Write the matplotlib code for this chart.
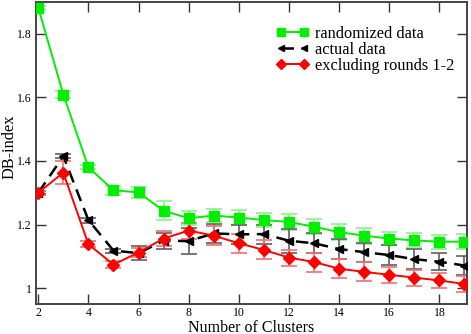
import numpy as np
import matplotlib
matplotlib.use("Agg")
import matplotlib.pyplot as plt

plt.rcParams['font.family'] = ['Liberation Serif', 'DejaVu Serif']

clusters = np.arange(2, 20)

# randomized data
rand_y = [1.882, 1.609, 1.380, 1.308, 1.301, 1.243, 1.220, 1.228, 1.222,
          1.214, 1.208, 1.193, 1.176, 1.165, 1.156, 1.150, 1.146, 1.146]
rand_err = [0.006, 0.010, 0.006, 0.014, 0.017, 0.030, 0.022, 0.021, 0.023,
            0.021, 0.025, 0.023, 0.026, 0.025, 0.021, 0.022, 0.022, 0.024]

# actual data
act_y = [1.300, 1.415, 1.214, 1.118, 1.110, 1.149, 1.148, 1.172, 1.169,
         1.170, 1.149, 1.141, 1.123, 1.113, 1.104, 1.091, 1.083, 1.071]
act_err = [0.005, 0.006, 0.008, 0.006, 0.021, 0.025, 0.040, 0.030, 0.030,
           0.030, 0.037, 0.031, 0.032, 0.030, 0.031, 0.032, 0.027, 0.030]

# excluding rounds 1-2
excl_y = [1.300, 1.363, 1.138, 1.074, 1.112, 1.156, 1.181, 1.165, 1.141,
          1.120, 1.096, 1.082, 1.061, 1.051, 1.042, 1.033, 1.024, 1.013]
excl_err = [0.006, 0.037, 0.010, 0.010, 0.015, 0.025, 0.025, 0.030, 0.030,
            0.030, 0.025, 0.030, 0.030, 0.030, 0.025, 0.025, 0.025, 0.025]

W, H = 471, 334
fig = plt.figure(figsize=(W / 100, H / 100), dpi=100)
ax = fig.add_axes([36 / W, 1 - 304 / H, (467 - 36) / W, (304 - 2) / H])

ax.errorbar(clusters, rand_y, yerr=rand_err, fmt='none', ecolor='#8cf08c',
            elinewidth=1.2, capsize=5.5, capthick=1.2, zorder=2)
ax.plot(clusters, rand_y, color='#00ee00', lw=1.4, marker='s', ms=7,
        label='randomized data', zorder=3)

ax.errorbar(clusters, act_y, yerr=act_err, fmt='none', ecolor='#606060',
            elinewidth=1.2, capsize=5.5, capthick=1.2, zorder=2)
ax.plot(clusters, act_y, color='black', lw=1.8, ls=(0, (5, 3)), marker='<',
        ms=6, label='actual data', zorder=4)

ax.errorbar(clusters, excl_y, yerr=excl_err, fmt='none', ecolor='#f07070',
            elinewidth=1.2, capsize=5.5, capthick=1.2, zorder=2)
ax.plot(clusters, excl_y, color='#ff0000', lw=1.4, marker='D', ms=6.5,
        label='excluding rounds 1-2', zorder=5)

ax.set_xlim(1.91, 19.1)
ax.set_ylim(0.95, 1.9)
ax.set_xticks(range(2, 19, 2))
ax.set_yticks([1, 1.2, 1.4, 1.6, 1.8])
ax.set_yticklabels(['1', '1.2', '1.4', '1.6', '1.8'])
ax.tick_params(direction='in', length=7, width=1, top=True, right=True,
               labelsize=8.5, pad=2, colors='#333333', labelcolor='black')
ax.tick_params(axis='y', pad=3)
for s in ax.spines.values():
    s.set_linewidth(1.4)
    s.set_color('#444444')

fig.text(251.5 / W, 1 - 331.5 / H, 'Number of Clusters', fontsize=11.5,
         ha='center', va='baseline')
fig.text(1 / W, 1 - 147 / H, 'DB-index', fontsize=11.8, rotation=90,
         ha='left', va='center')

ax.legend(loc='upper left', bbox_to_anchor=(276 / W, 1 - 26 / H),
          bbox_transform=fig.transFigure, frameon=False, fontsize=11.8,
          handlelength=2.0, handletextpad=0.35, labelspacing=0.0,
          borderaxespad=0, borderpad=0, markerscale=0.75, numpoints=2)

fig.savefig('out.png', dpi=100)
